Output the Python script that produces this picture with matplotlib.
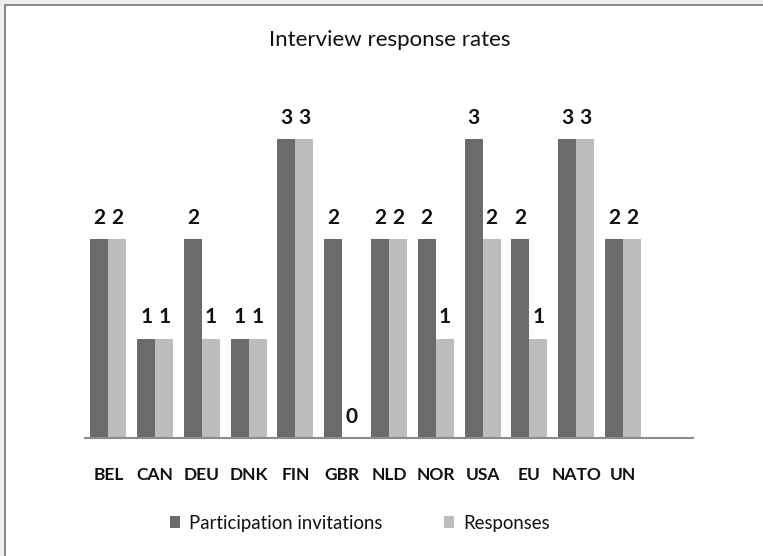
import matplotlib
matplotlib.use("Agg")
import matplotlib.pyplot as plt
from matplotlib.patches import Rectangle
import numpy as np

categories = ["BEL", "CAN", "DEU", "DNK", "FIN", "GBR", "NLD", "NOR", "USA", "EU", "NATO", "UN"]
invitations = [2, 1, 2, 1, 3, 2, 2, 2, 3, 2, 3, 2]
responses = [2, 1, 1, 1, 3, 0, 2, 1, 2, 1, 3, 2]
series_names = ["Participation invitations", "Responses"]
title = "Interview response rates"

dark = "#6b6b6b"
light = "#bdbdbd"
font = ["Lato", "DejaVu Sans"]

W, H = 763, 556
fig = plt.figure(figsize=(W / 100, H / 100), dpi=100)
fig.patch.set_facecolor("#efefef")

# white chart area with a grey frame on the top and left edges
fig.patches.append(Rectangle((5 / W, 0), 1, 1 - 5 / H, transform=fig.transFigure,
                             facecolor="white", edgecolor="none", zorder=-3))
fig.patches.append(Rectangle((4 / W, 0), 2 / W, 1 - 4 / H, transform=fig.transFigure,
                             facecolor="#8a8a8a", edgecolor="none", zorder=-2))
fig.patches.append(Rectangle((4 / W, 1 - 6 / H), 1, 2 / H, transform=fig.transFigure,
                             facecolor="#8a8a8a", edgecolor="none", zorder=-2))

ax_left, ax_right, ax_bottom, ax_top = 85, 693, 438, 89.75
ax = fig.add_axes([ax_left / W, 1 - ax_bottom / H, (ax_right - ax_left) / W,
                   (ax_bottom - ax_top) / H])
ax.set_facecolor("none")

x = np.arange(len(categories))
bw = 0.385
b1 = ax.bar(x - bw / 2, invitations, width=bw, color=dark, zorder=2)
b2 = ax.bar(x + bw / 2, responses, width=bw, color=light, zorder=2)

for bars, vals in ((b1, invitations), (b2, responses)):
    for rect, v in zip(bars, vals):
        ax.annotate(str(v), (rect.get_x() + rect.get_width() / 2, v),
                    xytext=(0, 8), textcoords="offset points",
                    ha="center", va="bottom", fontsize=15, fontweight="bold",
                    family=font, color="#111111")

ax.set_xlim(-0.5, len(categories) + 0.5)
ax.set_ylim(0, 3.5)
for s in ("top", "right", "left"):
    ax.spines[s].set_visible(False)
ax.spines["bottom"].set_color("#8c8c8c")
ax.spines["bottom"].set_linewidth(1.5)
ax.set_yticks([])
ax.set_xticks(x)
ax.set_xticklabels(categories, fontsize=12.5, fontweight="bold", family=font, color="#111111")
ax.tick_params(axis="x", length=0, pad=21)

fig.text(390 / W, 1 - 40 / H, title, ha="center", va="center", fontsize=16,
         family=font, color="#111111")

leg = fig.legend(handles=[b1, b2], labels=series_names, loc="center",
                 bbox_to_anchor=(360 / W, 1 - 523 / H), ncol=2, frameon=False,
                 prop={"family": font, "size": 13.4}, handlelength=0.55, handleheight=0.55,
                 handletextpad=0.5, columnspacing=3.3)
for t in leg.get_texts():
    t.set_color("#111111")

fig.savefig("out.png", dpi=100, facecolor=fig.get_facecolor())
